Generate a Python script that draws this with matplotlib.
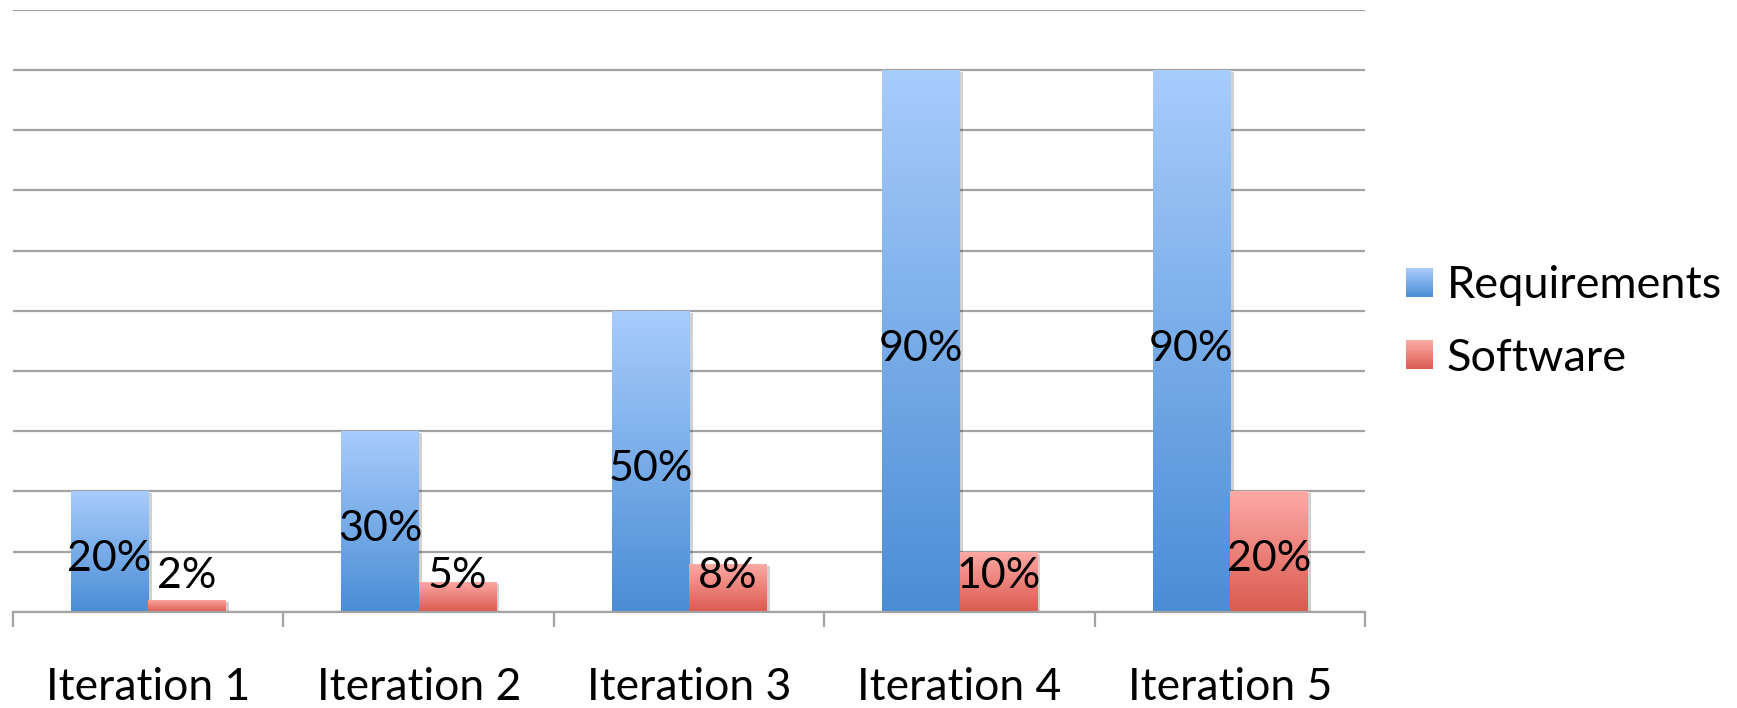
import matplotlib
matplotlib.use("Agg")
import matplotlib.pyplot as plt
import numpy as np
from matplotlib.colors import LinearSegmentedColormap
from matplotlib.legend_handler import HandlerBase
from matplotlib.patches import Patch, Rectangle
from matplotlib import patheffects

plt.rcParams["font.family"] = ["Lato", "DejaVu Sans"]

# Werte
categories = ["Iteration 1", "Iteration 2", "Iteration 3", "Iteration 4", "Iteration 5"]
series_names = ["Requirements", "Software"]
requirements = [20, 30, 50, 90, 90]
software = [2, 5, 8, 10, 20]

# Farbverlauf je Reihe: oben hell, unten dunkel
grad_colors = {
    "Requirements": ("#a8ccfc", "#4a8dd5"),
    "Software": ("#fdaaa6", "#da5a4f"),
}

GRID = "#a3a3a3"

fig = plt.figure(figsize=(17.37, 7.08), dpi=100)
ax = fig.add_axes([0.0075, 0.136, 0.7785, 0.85])

n = len(categories)
x = np.arange(n)
w = 1 / 3.5  # Abstandsbreite 150 %

ax.set_xlim(-0.5, n - 0.5)
ax.set_ylim(0, 100)


def gradient_bar(xc, h, top, bottom):
    cmap = LinearSegmentedColormap.from_list("g", [bottom, top])
    rect = ax.bar(xc, h, width=w, color=bottom, zorder=3, linewidth=0)[0]
    rect.set_path_effects([patheffects.SimplePatchShadow(offset=(2.5, -1.5), shadow_rgbFace="#000000", alpha=0.18),
                           patheffects.Normal()])
    img = ax.imshow(np.linspace(0, 1, 256).reshape(-1, 1), cmap=cmap, origin="lower",
                    extent=[xc - w / 2, xc + w / 2, 0, h], aspect="auto", zorder=4,
                    interpolation="bilinear")
    img.set_clip_path(rect)
    return rect


for vals, name, off in [(requirements, "Requirements", -w / 2), (software, "Software", w / 2)]:
    top, bottom = grad_colors[name]
    for i, v in enumerate(vals):
        gradient_bar(x[i] + off, v, top, bottom)
        ax.text(x[i] + off, max(v / 2 - 1.3, 6.0), f"{v}%", ha="center", va="center",
                fontsize=31, color="black", zorder=6)

ax.set_xlim(-0.5, n - 0.5)
ax.set_ylim(0, 100)

# Gitterlinien
ax.set_yticks(np.arange(0, 101, 10))
ax.yaxis.grid(True, color=GRID, linewidth=1.6, zorder=0)
ax.set_axisbelow(True)
ax.tick_params(axis="y", length=0, labelleft=False)

for s in ["left", "right", "top"]:
    ax.spines[s].set_visible(False)
ax.spines["bottom"].set_color(GRID)
ax.spines["bottom"].set_linewidth(1.6)
ax.spines["bottom"].set_zorder(5)

# Striche an Kategoriegrenzen, Beschriftung in der Mitte
ax.set_xticks(np.arange(-0.5, n, 1.0))
ax.set_xticklabels([])
ax.tick_params(axis="x", which="major", length=11, width=1.6, color=GRID, direction="out")
ax.set_xticks(x, minor=True)
ax.set_xticklabels(categories, minor=True, fontsize=32)
ax.tick_params(axis="x", which="minor", length=0, pad=40)


class GradientHandler(HandlerBase):
    def __init__(self, top, bottom):
        super().__init__()
        self.top, self.bottom = top, bottom

    def create_artists(self, legend, orig_handle, xdescent, ydescent, width, height, fontsize, trans):
        cmap = LinearSegmentedColormap.from_list("g", [self.bottom, self.top])
        k = 16
        arts = []
        for j in range(k):
            r = Rectangle((-xdescent, -ydescent + height * j / k), width, height / k + 0.3,
                          facecolor=cmap((j + 0.5) / k), edgecolor="none", transform=trans)
            arts.append(r)
        return arts


handles = [Patch(label=s) for s in series_names]
fig.legend(handles=handles, labels=series_names, loc="center left",
           bbox_to_anchor=(0.786, 0.545), frameon=False, fontsize=32.5,
           handlelength=0.6, handleheight=0.6, handletextpad=0.3, labelspacing=0.7,
           handler_map={handles[0]: GradientHandler(*grad_colors["Requirements"]),
                        handles[1]: GradientHandler(*grad_colors["Software"])})

fig.savefig("out.png", dpi=100)
